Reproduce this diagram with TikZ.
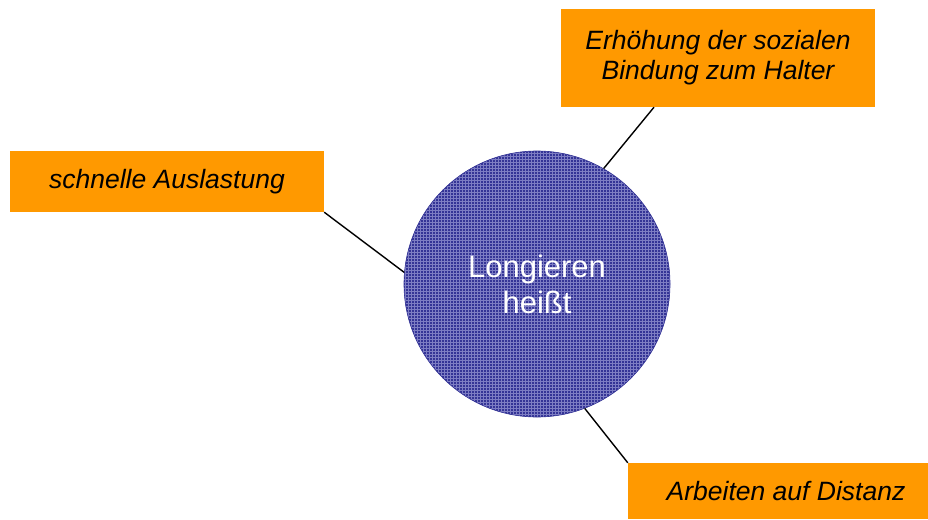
\documentclass[tikz,border=0pt]{standalone}
\usepackage{fontspec}
\setmainfont{Liberation Sans}
\usepackage{tikz}
\usetikzlibrary{patterns}
\definecolor{boxorange}{RGB}{255,153,0}
\definecolor{hubblue}{RGB}{52,52,150}
\definecolor{hubgrid}{RGB}{125,125,195}

\begin{document}
\begin{tikzpicture}[x=1pt,y=-1pt,
  box/.style={fill=boxorange,inner sep=0pt,align=center,font=\fontsize{26.5}{30}\selectfont\itshape},
  hub/.style={circle,draw=hubblue,line width=.6pt,preaction={fill=hubblue},pattern=grid,pattern color=hubgrid,minimum size=266pt,inner sep=0pt,align=center,text=white,font=\fontsize{31}{36}\selectfont},
  link/.style={draw=black,line width=1.4pt}]
\clip (0,0) rectangle (928,519);
\useasboundingbox (0,0) rectangle (928,519);
\node[hub] (hub) at (537,284) {Longieren\\heißt};
\node[box,minimum width=314pt,minimum height=98pt] (bind) at (718,58) {Erhöhung der sozialen\\Bindung zum Halter};
\node[box,minimum width=314pt,minimum height=61pt] (ausl) at (167,181.5) {schnelle Auslastung};
\node[box,minimum width=316pt,minimum height=56pt] (dist) at (786,491) {Arbeiten auf Distanz};
\draw[link] (ausl.south east)--(hub.175);
\draw[link] ([xshift=-64pt]bind.south)--(hub.60);
\draw[link] (dist.north west)--(hub.-69);
\end{tikzpicture}
\end{document}
